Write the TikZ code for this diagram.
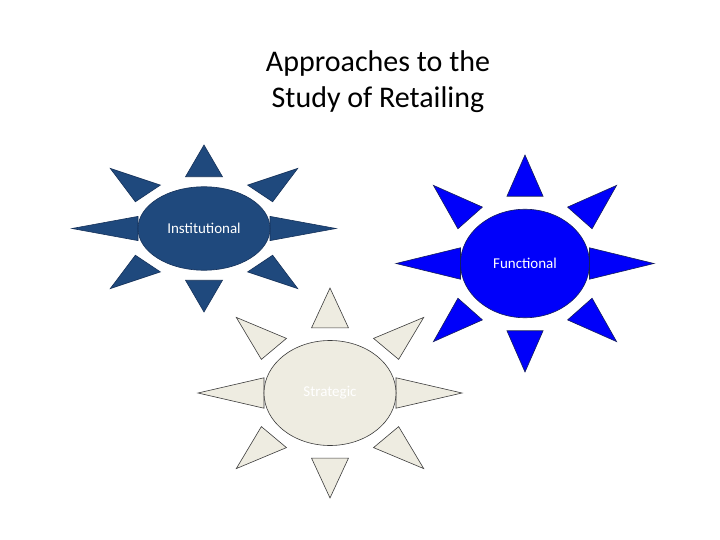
\documentclass[tikz,border=0pt]{standalone}
\usepackage{fontspec}
\setmainfont{Carlito}
\usetikzlibrary{shapes.geometric}
\definecolor{inst}{RGB}{31,73,125}
\definecolor{instd}{RGB}{22,50,90}
\definecolor{func}{RGB}{0,0,250}
\definecolor{funcd}{RGB}{20,30,90}
\definecolor{strat}{RGB}{238,236,225}
\definecolor{stratd}{RGB}{60,60,60}
\tikzset{
  ray/.style={line width=0.6pt, line join=miter},
  core/.style={ellipse, line width=0.6pt, inner sep=0pt, font=\fontsize{15}{18}\selectfont, text=white},
}
\newcommand{\mysun}[7]{%
 \begin{scope}[shift={(#2,#3)}, x=#4pt, y=#5pt]
  \foreach \r in {0,180}{
   \begin{scope}[rotate=\r]
    \fill[#6, ray] (0,-1) -- (0.14,-0.62) -- (-0.14,-0.62) -- cycle;
    \fill[#6, ray] (-1,0) -- (-0.5,0.145) -- (-0.5,-0.145) -- cycle;
    \fill[#6, ray] (-0.71,-0.72) -- (-0.33,-0.52) -- (-0.52,-0.32) -- cycle;
    \fill[#6, ray] (0.71,-0.72) -- (0.33,-0.52) -- (0.52,-0.32) -- cycle;
   \end{scope}}
 \end{scope}
 \node[core, #6, minimum width=#4pt, minimum height=#5pt] (#1) at (#2,#3) {#7};
}
\begin{document}
\begin{tikzpicture}[x=1pt,y=-1pt]
\useasboundingbox[fill=white] (0,0) rectangle (720,540);
\node[font=\fontsize{30}{36}\selectfont, align=center] (title) at (378,82) {Approaches to the\\Study of Retailing};
\mysun{institutional}{204}{228.5}{132}{83.5}{fill=inst,draw=instd}{Institutional}
\mysun{functional}{525}{263.5}{129}{108.5}{fill=func,draw=funcd}{Functional}
\mysun{strategic}{330}{393}{132}{105}{fill=strat,draw=stratd}{Strategic}
\end{tikzpicture}
\end{document}
